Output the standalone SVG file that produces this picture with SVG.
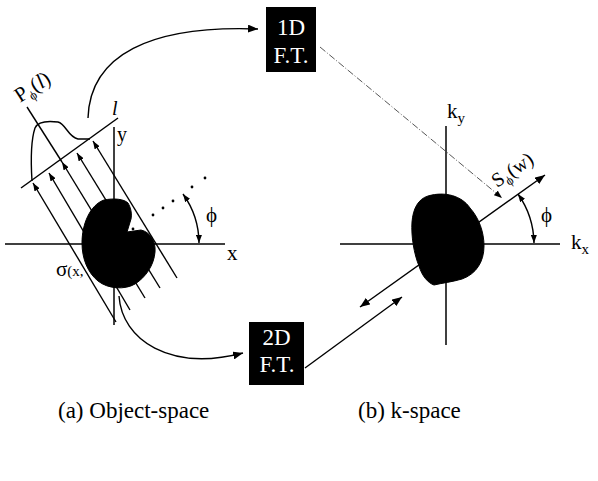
<svg xmlns="http://www.w3.org/2000/svg" width="598" height="481" viewBox="0 0 598 481">
<defs>
<style>
.ln{stroke:#000;fill:none;stroke-width:1.4}
.ax{stroke:#000;fill:none;stroke-width:1.5}
.t{fill:#000}
.bt{fill:#fff;font-size:23px;text-anchor:middle}
.blk{fill:#000;stroke:#000;stroke-width:1}
</style>
<marker id="ah" markerUnits="userSpaceOnUse" markerWidth="10" markerHeight="8" refX="10" refY="4" orient="auto-start-reverse" viewBox="0 0 10 8">
<path d="M0,0 L10,4 L0,8 z" fill="#000"/>
</marker>
<marker id="ahs" markerUnits="userSpaceOnUse" markerWidth="8" markerHeight="6" refX="8" refY="3" orient="auto-start-reverse" viewBox="0 0 8 6">
<path d="M0,0 L8,3 L0,6 z" fill="#000"/>
</marker>
</defs>
<rect width="598" height="481" fill="#fff"/>

<g font-family="'Liberation Serif', 'DejaVu Serif', serif">
<!-- Left panel: object space -->
<g id="object-space">
<line class="ax" x1="5" y1="244" x2="225" y2="244"/>
<line class="ax" x1="114" y1="127" x2="114" y2="325"/>
<line class="ax" x1="21" y1="188" x2="118" y2="118"/>
<line class="ln" x1="27" y1="107" x2="62" y2="162"/>
<line class="ln" x1="116" y1="322" x2="33" y2="183" marker-end="url(#ahs)"/>
<line class="ln" x1="130" y1="310" x2="49" y2="173" marker-end="url(#ahs)"/>
<line class="ln" x1="145" y1="298" x2="62" y2="162" marker-end="url(#ahs)"/>
<line class="ln" x1="160" y1="288" x2="77" y2="153" marker-end="url(#ahs)"/>
<line class="ln" x1="177" y1="278" x2="93" y2="141" marker-end="url(#ahs)"/>
<path class="ln" d="M32,181 C31,165 31,140 35,128 C38,121 50,121 58,122 C66,124 68,137 78,139 L90,139"/>
<path class="blk" d="M104,200 C114,198 124,199 128,203 C131,208 132,214 131,219 L127,232 L141,230 C150,232 156,241 155,252 C154,265 146,277 135,284 C125,290 108,289 98,281 C88,273 82,259 82,243 C82,224 90,205 104,200 Z"/>
<g fill="#000">
<circle cx="133" cy="229" r="1.4"/>
<circle cx="153" cy="215" r="1.4"/>
<circle cx="163" cy="208" r="1.4"/>
<circle cx="173" cy="201" r="1.4"/>
<circle cx="192" cy="187" r="1.4"/>
<circle cx="205" cy="178" r="1.4"/>
</g>
<path class="ln" d="M199,243 A85,85 0 0 0 183,194" marker-start="url(#ahs)" marker-end="url(#ahs)"/>
<text class="t" x="206" y="222" font-size="21">ϕ</text>
<text class="t" x="227" y="260" font-size="21">x</text>
<text class="t" x="117" y="141" font-size="20">y</text>
<text class="t" x="112" y="115" font-size="20" font-style="italic">l</text>
<text class="t" x="56" y="276" font-size="15"><tspan font-size="21">σ</tspan>(x,</text>
<text class="t" font-size="21" transform="translate(20,103) rotate(-33)">P<tspan font-size="13" dy="5">ϕ</tspan><tspan dy="-5">(</tspan><tspan font-style="italic">l</tspan>)</text>
</g>

<!-- Right panel: k-space -->
<g id="k-space">
<line class="ax" x1="340" y1="244" x2="560" y2="244"/>
<line class="ax" x1="446" y1="126" x2="446" y2="345"/>
<line class="ln" x1="360" y1="307" x2="545" y2="175" marker-start="url(#ah)" marker-end="url(#ah)"/>
<path class="blk" d="M428,196 C445,191 462,196 470,208 C479,218 484,232 484,246 C484,262 476,274 462,279 C452,282 442,283 434,285 C428,283 422,276 419,266 C414,254 411,236 412,222 C413,209 418,199 428,196 Z"/>
<path class="ln" d="M534,243 A88,88 0 0 0 518,194" marker-start="url(#ahs)" marker-end="url(#ahs)"/>
<text class="t" x="541" y="222" font-size="21">ϕ</text>
<text class="t" x="571" y="249" font-size="21">k<tspan font-size="15" dy="5">x</tspan></text>
<text class="t" x="447" y="118" font-size="21">k<tspan font-size="15" dy="5">y</tspan></text>
<text class="t" font-size="20" transform="translate(497,188) rotate(-34)">S<tspan font-size="13" dy="5">ϕ</tspan><tspan dy="-5">(w)</tspan></text>
</g>

<!-- Boxes -->
<g id="ft1d">
<rect x="266" y="7" width="50" height="65" fill="#000"/>
<text class="bt" x="291" y="35">1D</text>
<text class="bt" x="291" y="63">F.T.</text>
</g>
<g id="ft2d">
<rect x="249" y="322" width="55" height="63" fill="#000"/>
<text class="bt" x="276.5" y="345">2D</text>
<text class="bt" x="277" y="372">F.T.</text>
</g>

<!-- Connectors -->
<g id="connectors">
<path class="ln" d="M88,118 C90,55 150,25 258,29" marker-end="url(#ah)"/>
<line x1="320" y1="47" x2="502" y2="198" stroke="#444" stroke-width="0.9" stroke-dasharray="7,2,1,2" marker-end="url(#ahs)"/>
<path class="ln" d="M119,296 C122,340 170,372 243,353" marker-end="url(#ah)"/>
<line class="ln" x1="305" y1="368" x2="402" y2="297" marker-end="url(#ah)"/>
</g>

<!-- Captions -->
<text class="t" x="58" y="418" font-size="23">(a) Object-space</text>
<text class="t" x="358" y="418" font-size="23">(b) k-space</text>
</g>
</svg>
